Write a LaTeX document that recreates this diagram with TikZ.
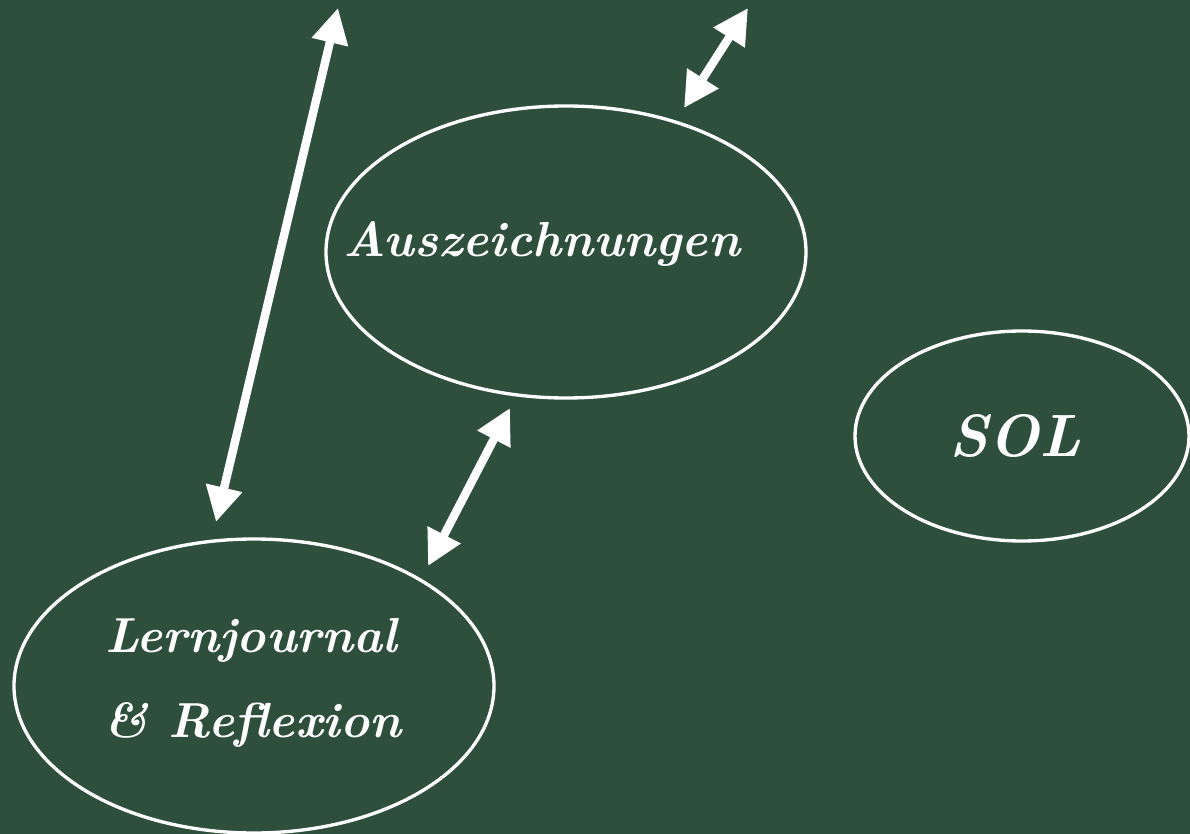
\documentclass[tikz,border=0pt]{standalone}
\usepackage{tikz}
\usetikzlibrary{calc}
\usetikzlibrary{arrows.meta}
\usetikzlibrary{shapes}
\definecolor{chalkbg}{RGB}{45,79,60}

\begin{document}
\begin{tikzpicture}[x=0.02cm, y=-0.02cm,
    bubble/.style={
            draw=white,
            ellipse,
            line width=1.9pt,
            inner sep=0pt
        },
        chalk/.style={
            text=white,
            font=\fontsize{28}{34}\selectfont\bfseries\itshape,
            anchor=base,
            inner sep=0pt
        },
        dbl/.style={
            draw=white,
            line width=4.8pt,
            {Triangle[length=20pt,width=20pt]}-{Triangle[length=20pt,width=20pt]}
        }
]

    \fill [chalkbg] (0,0) rectangle (1190,834);
    \useasboundingbox (0,0) rectangle (1190,834);

    \node [bubble, minimum width=480*0.02cm, minimum height=292*0.02cm] (ausz) at (566,252) {};
    \node [bubble, minimum width=334*0.02cm, minimum height=210*0.02cm] (sol) at (1022,436) {};
    \node [bubble, minimum width=480*0.02cm, minimum height=294*0.02cm] (lern) at (254,686) {};

    \node [chalk] (ausz-text) at (542,257) {Auszeichnungen};
    \node [chalk, font=\fontsize{34}{40}\selectfont\bfseries\itshape] (sol-text) at (1015,457) {SOL};
    \node [chalk] (lern-text) at (251,652) {Lernjournal};
    \node [chalk] (refl-text) at (253,737) {\& Reflexion};

    % arrow ends
    \coordinate (lern-up) at (216,522);
    \coordinate (top-left) at (338,8);
    \coordinate (ausz-up) at (684,108);
    \coordinate (top-right) at (748,8);
    \coordinate (lern-ne) at (428,566);
    \coordinate (ausz-down) at (510,408);

    \draw [dbl] (lern-up) -- (top-left);
    \draw [dbl] (ausz-up) -- (top-right);
    \draw [dbl] (lern-ne) -- (ausz-down);
\end{tikzpicture}
\end{document}
